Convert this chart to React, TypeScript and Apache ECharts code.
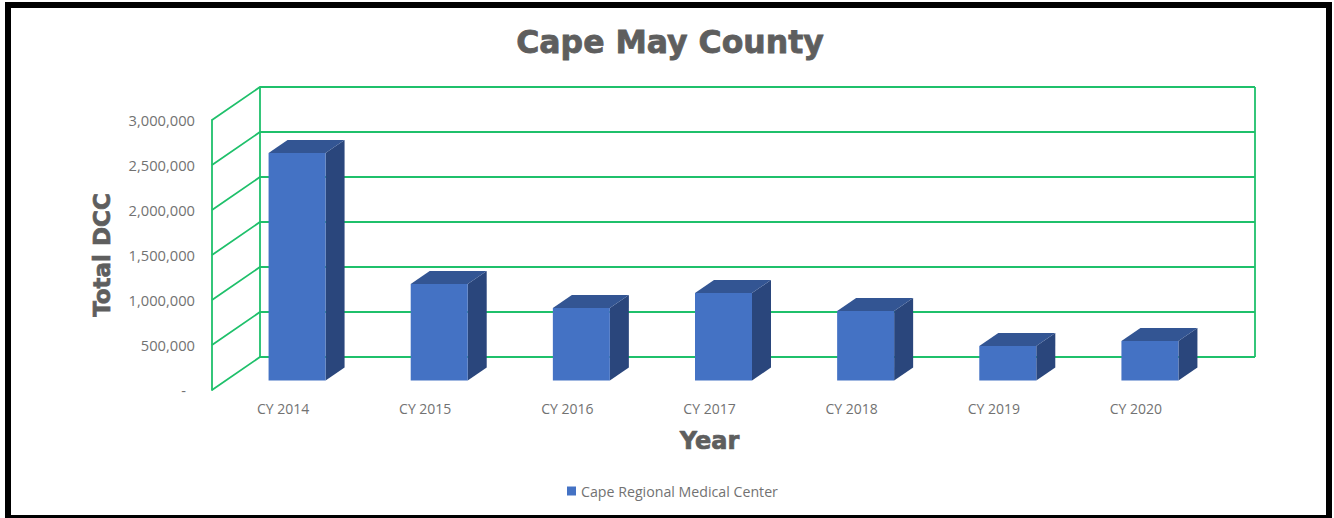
import React, { useEffect, useRef } from "react";
import * as echarts from "echarts";

const categories = ["CY 2014", "CY 2015", "CY 2016", "CY 2017", "CY 2018", "CY 2019", "CY 2020"];
const dccValues = [2528000, 1072000, 805000, 972000, 772000, 383000, 439000];
const yTicks = [0, 500000, 1000000, 1500000, 2000000, 2500000, 3000000];
const seriesName = "Cape Regional Medical Center";

const GREEN = "#1FC06B";
const FRONT = "#4472C4";
const TOP = "#335593";
const SIDE = "#2A467C";
const TEXT = "#727272";
const TITLE = "#5E5E5E";
const WALL_DX = 48;
const WALL_DY = 33;

const formatTick = (v: number) => (v === 0 ? "{dash|-}" : v.toLocaleString("en-US"));

export default function App() {
  const ref = useRef<HTMLDivElement>(null);
  useEffect(() => {
    const chart = echarts.init(ref.current!, null, { renderer: "svg" });
    chart.setOption({
      animation: false,
      backgroundColor: "#fff",
      title: {
        text: "Cape May County",
        left: 665,
        top: 21,
        textAlign: "center",
        textStyle: {
          fontFamily: "DejaVu Sans",
          fontWeight: "bold",
          fontSize: 31.5,
          color: TITLE,
          textBorderColor: TITLE,
          textBorderWidth: 0.8,
        },
      },
      legend: {
        data: [seriesName],
        left: 562,
        top: 479,
        icon: "rect",
        itemWidth: 9,
        itemHeight: 9,
        itemGap: 4,
        textStyle: { fontFamily: "Open Sans", fontSize: 14.2, color: TEXT },
      },
      grid: { left: 212, top: 120, width: 995, height: 270, containLabel: false },
      xAxis: {
        type: "category",
        data: categories,
        axisLine: { show: false },
        axisTick: { show: false },
        axisLabel: { fontFamily: "Open Sans", fontSize: 14, color: TEXT, margin: 11 },
        name: "Year",
        nameLocation: "middle",
        nameGap: 39,
        nameTextStyle: {
          fontFamily: "DejaVu Sans",
          fontWeight: "bold",
          fontSize: 24,
          color: TITLE,
          textBorderColor: TITLE,
          textBorderWidth: 0.7,
        },
      },
      yAxis: {
        type: "value",
        min: 0,
        max: 3000000,
        interval: 500000,
        axisLine: { show: true, lineStyle: { color: GREEN, width: 1.8 } },
        axisTick: { show: false },
        splitLine: { show: false },
        axisLabel: {
          fontFamily: "Open Sans",
          fontSize: 14.7,
          color: TEXT,
          margin: 17,
          formatter: formatTick,
          rich: { dash: { padding: [0, 9, 0, 0], fontFamily: "Open Sans", fontSize: 14.7, color: TEXT } },
        },
        name: "Total DCC",
        nameLocation: "middle",
        nameGap: 99,
        nameTextStyle: {
          fontFamily: "DejaVu Sans",
          fontWeight: "bold",
          fontSize: 23,
          color: TITLE,
          textBorderColor: TITLE,
          textBorderWidth: 0.7,
        },
      },
      series: [
        {
          name: "walls",
          type: "custom",
          silent: true,
          z: 1,
          clip: false,
          data: yTicks.map((v) => [0, v]),
          encode: { x: 0, y: 1 },
          renderItem: (params: any, api: any) => {
            const cs = params.coordSys;
            const y = api.coord([0, api.value(1)])[1];
            const x0 = cs.x;
            const x1 = cs.x + cs.width;
            const line = (points: number[][]) => ({
              type: "polyline",
              shape: { points },
              style: { stroke: GREEN, fill: "none", lineWidth: 1.8 },
            });
            const children = [
              line([
                [x0, y],
                [x0 + WALL_DX, y - WALL_DY],
                [x1 + WALL_DX, y - WALL_DY],
              ]),
            ];
            if (params.dataIndex === 0) {
              const top = cs.y - WALL_DY;
              const bot = cs.y + cs.height - WALL_DY;
              children.push(line([[x0 + WALL_DX, top], [x0 + WALL_DX, bot]]));
              children.push(line([[x1 + WALL_DX, top], [x1 + WALL_DX, bot]]));
            }
            return { type: "group", children };
          },
        },
        {
          name: seriesName,
          type: "custom",
          z: 2,
          clip: false,
          itemStyle: { color: FRONT },
          data: dccValues.map((v, i) => [i, v]),
          encode: { x: 0, y: 1 },
          renderItem: (_params: any, api: any) => {
            const i = api.value(0);
            const top = api.coord([i, api.value(1)]);
            const base = api.coord([i, 0]);
            const w = 57;
            const dx = 19;
            const dy = 13;
            const l = top[0] + 14 - w / 2;
            const r = l + w;
            const t = top[1] - 9.5;
            const b = base[1] - 9.5;
            return {
              type: "group",
              children: [
                {
                  type: "polygon",
                  shape: { points: [[r, t], [r + dx, t - dy], [r + dx, b - dy], [r, b]] },
                  style: { fill: SIDE },
                },
                {
                  type: "polygon",
                  shape: { points: [[l, t], [l + dx, t - dy], [r + dx, t - dy], [r, t]] },
                  style: { fill: TOP },
                },
                {
                  type: "rect",
                  shape: { x: l, y: t, width: w, height: b - t },
                  style: { fill: FRONT },
                },
              ],
            };
          },
        },
      ],
      graphic: [
        {
          type: "rect",
          shape: { x: 8, y: 5, width: 1321, height: 513 },
          style: { fill: "none", stroke: "#000", lineWidth: 6 },
          silent: true,
          z: 100,
        },
      ],
    });
    return () => chart.dispose();
  }, []);
  return (
    <div
      ref={ref}
      style={{ position: "fixed", left: 0, top: 0, width: 1334, height: 518, background: "#fff" }}
    />
  );
}
